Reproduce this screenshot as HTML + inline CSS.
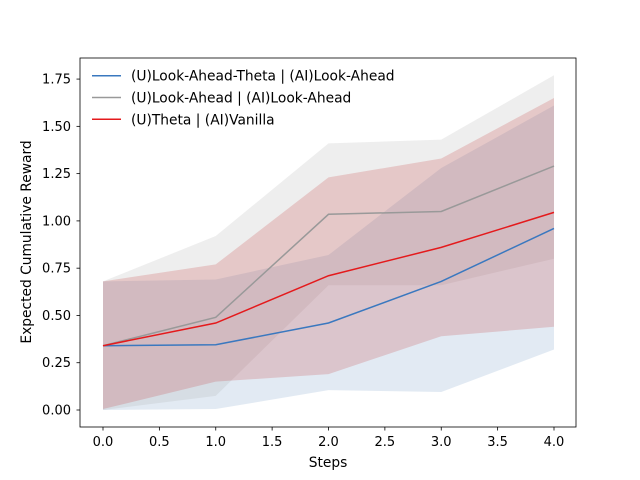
<!DOCTYPE html>
<html><head><meta charset="utf-8"><style>
body{margin:0;background:#fff;}
svg{display:block;font-family:"DejaVu Sans","Liberation Sans",sans-serif;}
</style></head><body>
<svg id="chart" width="640" height="480"></svg>
<script>
const steps=[0,1,2,3,4];
const blueMean=[0.34,0.345,0.46,0.68,0.96];
const blueLow=[0.0,0.005,0.105,0.095,0.32];
const blueHigh=[0.68,0.69,0.82,1.28,1.61];
const grayMean=[0.34,0.49,1.035,1.05,1.29];
const grayLow=[0.0,0.075,0.66,0.66,0.80];
const grayHigh=[0.68,0.92,1.41,1.43,1.77];
const redMean=[0.34,0.46,0.71,0.86,1.045];
const redLow=[0.005,0.15,0.19,0.39,0.44];
const redHigh=[0.68,0.77,1.23,1.33,1.65];
const xTicks=[0,0.5,1,1.5,2,2.5,3,3.5,4];
const yTicks=[0,0.25,0.5,0.75,1,1.25,1.5,1.75];
const labels=["(U)Look-Ahead-Theta | (AI)Look-Ahead","(U)Look-Ahead | (AI)Look-Ahead","(U)Theta | (AI)Vanilla"];

const NS="http://www.w3.org/2000/svg";
const svg=document.getElementById('chart');
const X=v=>103+v*112.75;
const Y=v=>410-v*189.1;
function mk(tag,attrs,parent){const e=document.createElementNS(NS,tag);for(const k in attrs)e.setAttribute(k,attrs[k]);(parent||svg).appendChild(e);return e;}
function band(lo,hi,color,name){
  let d=steps.map((s,i)=>(i?'L':'M')+X(s)+','+Y(hi[i])).join('');
  for(let i=steps.length-1;i>=0;i--)d+='L'+X(steps[i])+','+Y(lo[i]);
  const p=mk('path',{d:d+'Z',fill:color,'fill-opacity':0.2,stroke:'none'});
  
  
}
function line(m,color,name){
  const p=mk('polyline',{points:steps.map((s,i)=>X(s)+','+Y(m[i])).join(' '),fill:'none',stroke:color,'stroke-width':1.5});
  
  
}
const cols=['#3a78bf','#999999','#e41a1c'];
band(blueLow,blueHigh,'#6f98c4','band-look-ahead-theta');
band(grayLow,grayHigh,'#aaaaaa','band-look-ahead');
band(redLow,redHigh,'#c43030','band-theta-vanilla');
line(blueMean,cols[0],'line-look-ahead-theta');
line(grayMean,cols[1],'line-look-ahead');
line(redMean,cols[2],'line-theta-vanilla');
const frame=mk('rect',{x:80,y:58,width:496,height:369,fill:'none',stroke:'#000','stroke-width':0.8});


xTicks.forEach(t=>{
  mk('line',{x1:X(t),x2:X(t),y1:427,y2:430.5,stroke:'#000','stroke-width':0.8});
  const tx=mk('text',{x:X(t),y:446,'font-size':13,'text-anchor':'middle'});tx.textContent=t.toFixed(1);
  
  
});
yTicks.forEach(t=>{
  mk('line',{x1:76.5,x2:80,y1:Y(t),y2:Y(t),stroke:'#000','stroke-width':0.8});
  const tx=mk('text',{x:71,y:Y(t)+4.5,'font-size':13,'text-anchor':'end'});tx.textContent=t.toFixed(2);
  
  
});
const xt=mk('text',{x:328,y:467,'font-size':13.8,'text-anchor':'middle'});xt.textContent='Steps';


const yt=mk('text',{x:31,y:242,'font-size':13.8,'text-anchor':'middle',transform:'rotate(-90 31 242)'});yt.textContent='Expected Cumulative Reward';


labels.forEach((l,i)=>{
  const y=75.7+i*21.8;
  const g=mk('g',{});
  
  
  mk('line',{x1:92,x2:121,y1:y,y2:y,stroke:cols[i],'stroke-width':1.5},g);
  const t=mk('text',{x:131,y:y+5,'font-size':13.8},g);t.textContent=l;
});
</script>
</body></html>
